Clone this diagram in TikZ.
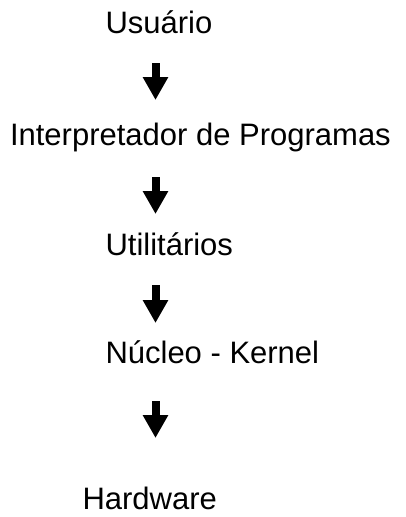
\documentclass[tikz,border=0pt]{standalone}
\usepackage{fontspec}
\setmainfont{Liberation Sans}
\usetikzlibrary{arrows.meta}
\begin{document}
\begin{tikzpicture}[x=1pt,y=-1pt,
  lbl/.style={inner sep=0pt,outer sep=0pt,anchor=base west,font=\fontsize{31}{37}\selectfont},
  bigarrow/.style={line width=8pt,line cap=butt,-{Triangle[width=24pt,length=23pt]}}]
\useasboundingbox (0,0) rectangle (406,517);
\node[lbl] (usu) at (105.5,33) {Usuário};
\node[lbl] (int) at (10,145) {Interpretador de Programas};
\node[lbl] (uti) at (105.5,255) {Utilitários};
\node[lbl] (nuc) at (105.5,363) {Núcleo - Kernel};
\node[lbl] (hw) at (82.5,509) {Hardware};
\coordinate (a1s) at (155.5,63);  \coordinate (a1e) at (155.5,100);
\coordinate (a2s) at (155.5,177); \coordinate (a2e) at (155.5,214);
\coordinate (a3s) at (155.5,285); \coordinate (a3e) at (155.5,323);
\coordinate (a4s) at (155.5,401); \coordinate (a4e) at (155.5,438);
\draw[bigarrow] (a1s) -- (a1e);
\draw[bigarrow] (a2s) -- (a2e);
\draw[bigarrow] (a3s) -- (a3e);
\draw[bigarrow] (a4s) -- (a4e);
\end{tikzpicture}
\end{document}
